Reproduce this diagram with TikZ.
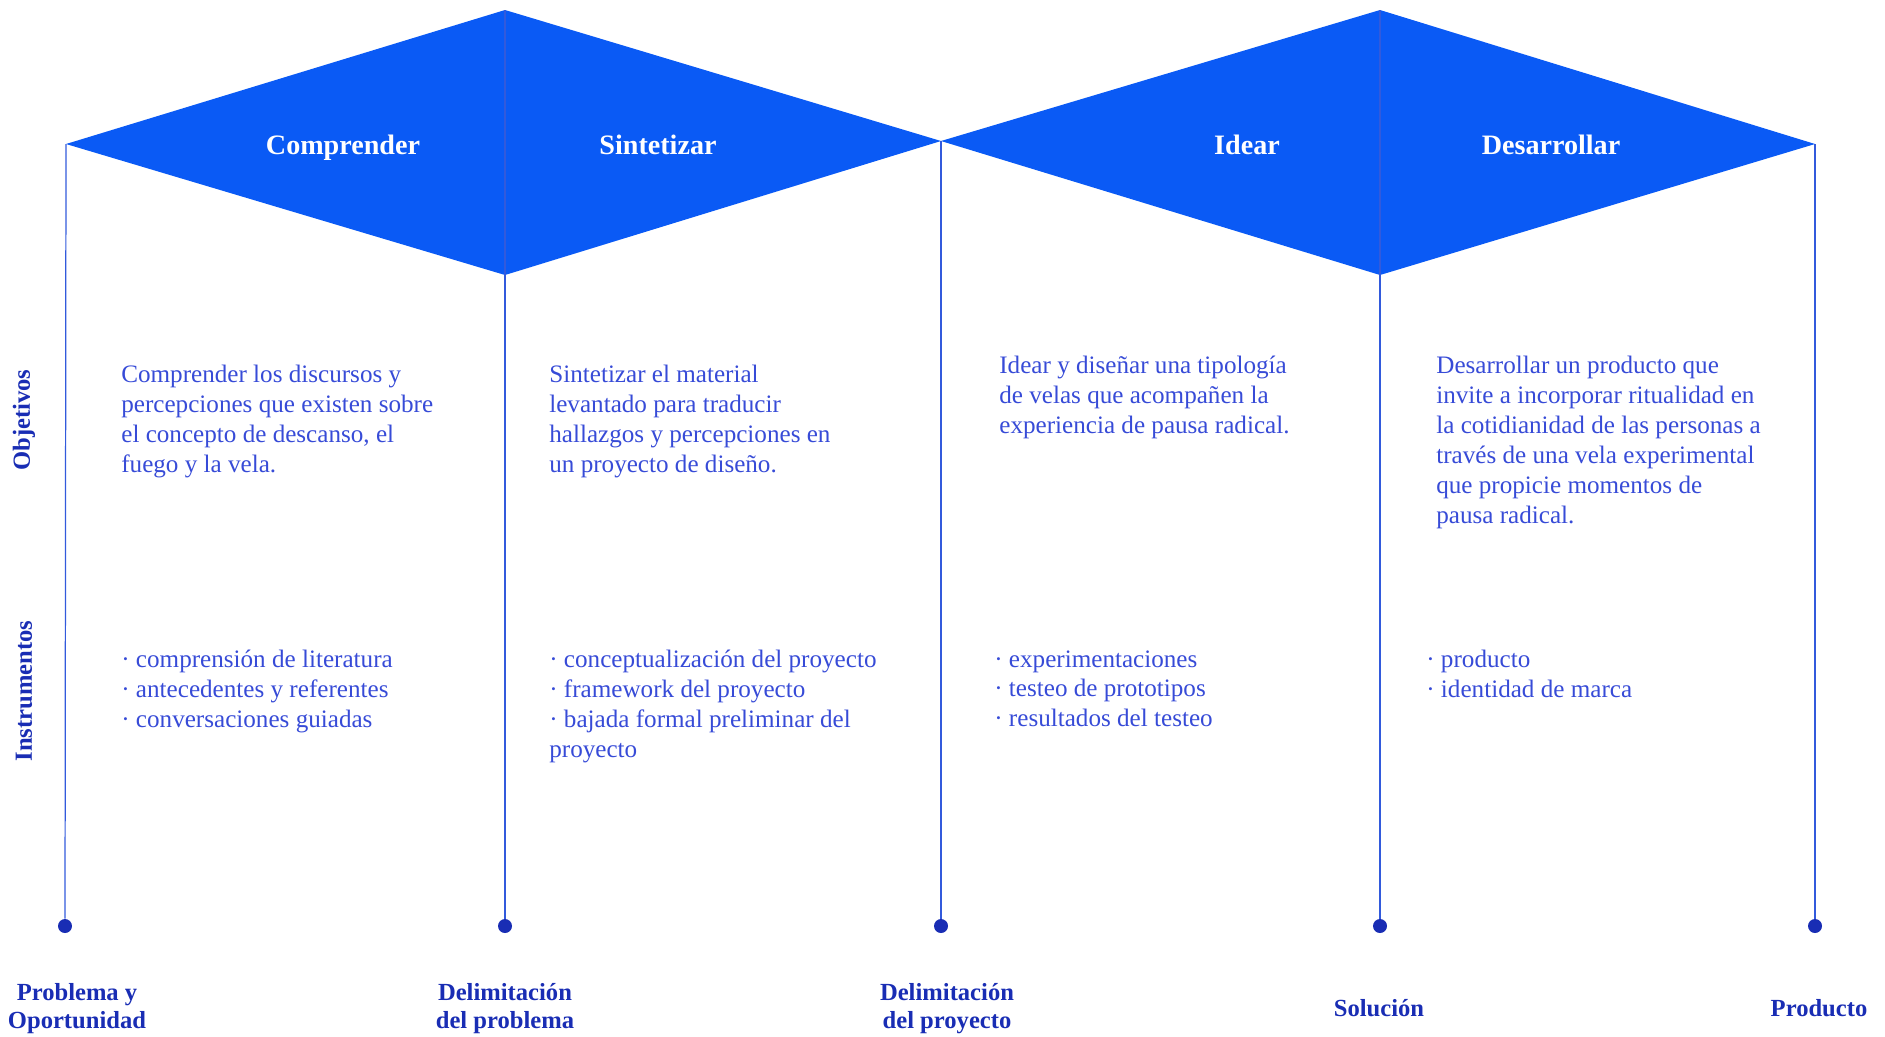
\documentclass[tikz,border=0pt]{standalone}
\usepackage{fontspec}
\setmainfont{Liberation Serif}
\definecolor{rombo}{RGB}{10,90,245}
\definecolor{linea}{RGB}{50,90,220}
\definecolor{azultexto}{RGB}{55,75,215}
\definecolor{azuloscuro}{RGB}{25,45,180}
\begin{document}
\begin{tikzpicture}[x=0.02cm, y=-0.02cm,
    texto/.style={anchor=north west, align=left, inner sep=0pt, text=azultexto, font=\fontsize{14.3}{17}\selectfont},
    hito/.style={align=center, inner sep=0pt, text=azuloscuro, font=\bfseries\fontsize{14}{16}\selectfont},
    fase/.style={anchor=base, inner sep=0pt, text=white, font=\bfseries\fontsize{16}{19}\selectfont},
    eje/.style={rotate=90, inner sep=0pt, text=azuloscuro, font=\bfseries\fontsize{14}{17}\selectfont},
    punto/.style={circle, fill=azuloscuro, minimum size=0.28cm, inner sep=0pt}]
      \useasboundingbox (0,0) rectangle (1885,1036);

      % vertices de los rombos
      \coordinate (c1) at (66,144);
      \coordinate (t1) at (505,10);
      \coordinate (b1) at (505,275);
      \coordinate (c2) at (941,141);
      \coordinate (t2) at (1380,10);
      \coordinate (b2) at (1380,275);
      \coordinate (c3) at (1815,144);

      \fill[rombo] (c1) -- (t1) -- (c2) -- (b1) -- cycle;
      \fill[rombo] (c2) -- (t2) -- (c3) -- (b2) -- cycle;

      % hitos
      \node[punto] at (65,926)   (d1) {};
      \node[punto] at (505,926)  (d2) {};
      \node[punto] at (941,926)  (d3) {};
      \node[punto] at (1380,926) (d4) {};
      \node[punto] at (1815,926) (d5) {};

      \draw[linea, line width=0.7pt] (c1) -- (d1);
      \draw[linea, line width=0.7pt] (t1) -- (d2);
      \draw[linea, line width=0.7pt] (c2) -- (d3);
      \draw[linea, line width=0.7pt] (t2) -- (d4);
      \draw[linea, line width=0.7pt] (c3) -- (d5);

      \node[fase] at (343,154)  (comprender)  {Comprender};
      \node[fase] at (658,154)  (sintetizar)  {Sintetizar};
      \node[fase] at (1247,154) (idear)       {Idear};
      \node[fase] at (1551,154) (desarrollar) {Desarrollar};

      \node[eje] at (24,420) (objetivos)    {Objetivos};
      \node[eje] at (24,691) (instrumentos) {Instrumentos};

      \node[texto] at (121,365)  (obj1) {Comprender los discursos y\\percepciones que existen sobre\\el concepto de descanso, el\\fuego y la vela.};
      \node[texto] at (549,365)  (obj2) {Sintetizar el material\\levantado para traducir\\hallazgos y percepciones en\\un proyecto de diseño.};
      \node[texto] at (999,356)  (obj3) {Idear y diseñar una tipología\\de velas que acompañen la\\experiencia de pausa radical.};
      \node[texto] at (1436,356) (obj4) {Desarrollar un producto que\\invite a incorporar ritualidad en\\la cotidianidad de las personas a\\través de una vela experimental\\que propicie momentos de\\pausa radical.};

      \node[texto] at (121,650)  (ins1) {· comprensión de literatura\\· antecedentes y referentes\\· conversaciones guiadas};
      \node[texto] at (549,650)  (ins2) {· conceptualización del proyecto\\· framework del proyecto\\· bajada formal preliminar del\\proyecto};
      \node[texto] at (994,650)  (ins3) {· experimentaciones\\· testeo de prototipos\\· resultados del testeo};
      \node[texto] at (1426,650) (ins4) {· producto\\· identidad de marca};

      \node[hito, anchor=north] at (77,983)   (problema)  {Problema y\\Oportunidad};
      \node[hito, anchor=north] at (505,983)  (delimprob) {Delimitación\\del problema};
      \node[hito, anchor=north] at (947,983)  (delimproy) {Delimitación\\del proyecto};
      \node[hito, anchor=base]  at (1379,1016) (solucion) {Solución};
      \node[hito, anchor=base]  at (1819,1016) (producto) {Producto};
    \end{tikzpicture}
\end{document}
